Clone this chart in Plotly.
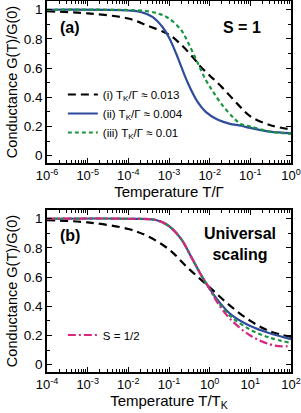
import plotly.graph_objects as go

# ---------- data: panel (a), S = 1, vs T/Gamma ----------
a_i_T = [1e-6, 1e-5, 1e-4, 3e-4, 1e-3, 2e-3, 4e-3, 6e-3, 1e-2, 2e-2, 5e-2, 1e-1, 3e-1, 1]
a_i_G = [0.99, 0.975, 0.94, 0.89, 0.83, 0.76, 0.67, 0.61, 0.55, 0.47, 0.35, 0.27, 0.21, 0.18]

a_ii_T = [1e-6, 1e-4, 2e-4, 4e-4, 7e-4, 1e-3, 1.5e-3, 2e-3, 3e-3, 5e-3, 8e-3, 1.5e-2, 3e-2, 6e-2, 1e-1, 3e-1, 1]
a_ii_G = [1.0, 0.995, 0.985, 0.95, 0.88, 0.81, 0.70, 0.61, 0.49, 0.37, 0.30, 0.25, 0.22, 0.205, 0.19, 0.165, 0.155]

a_iii_T = [1e-6, 1e-4, 3e-4, 6e-4, 1e-3, 2e-3, 3e-3, 5e-3, 8e-3, 1.2e-2, 2e-2, 4e-2, 6e-2, 1e-1, 3e-1, 1]
a_iii_G = [1.0, 0.998, 0.99, 0.97, 0.94, 0.86, 0.77, 0.64, 0.52, 0.44, 0.35, 0.255, 0.215, 0.20, 0.165, 0.15]

# ---------- data: panel (b), universal scaling vs T/T_K ----------
b_i_T = [1e-4, 1e-3, 1e-2, 3e-2, 1e-1, 3e-1, 1, 3, 10, 30, 100]
b_i_G = [0.99, 0.975, 0.93, 0.88, 0.79, 0.66, 0.53, 0.41, 0.30, 0.23, 0.19]

b_ii_T = [1e-4, 1e-2, 5e-2, 1e-1, 2e-1, 3.5e-1, 6e-1, 1, 1.6, 3.3, 10, 30, 100]
b_ii_G = [1.0, 1.0, 0.99, 0.95, 0.86, 0.74, 0.62, 0.52, 0.44, 0.345, 0.265, 0.215, 0.175]

b_iii_T = [1e-4, 1e-2, 5e-2, 1e-1, 2e-1, 3.5e-1, 6e-1, 1, 1.6, 3.3, 10, 30, 100]
b_iii_G = [1.0, 1.0, 0.99, 0.95, 0.86, 0.74, 0.62, 0.52, 0.43, 0.33, 0.24, 0.185, 0.15]

b_half_T = [1e-4, 1e-2, 5e-2, 1e-1, 2e-1, 3.5e-1, 6e-1, 1, 1.6, 3.3, 10, 30, 60, 100]
b_half_G = [1.0, 1.0, 0.99, 0.95, 0.86, 0.74, 0.62, 0.52, 0.42, 0.31, 0.20, 0.14, 0.125, 0.13]

legend_a = ["(i) T<sub>K</sub>/Γ ≈ 0.013", "(ii) T<sub>K</sub>/Γ ≈ 0.004", "(iii) T<sub>K</sub>/Γ ≈ 0.01"]
legend_b = "S = 1/2"

y_tickvals = [0, 0.2, 0.4, 0.6, 0.8, 1]
y_ticktext = ["0", "0.2", "0.4", "0.6", "0.8", "1"]

xa_exponents = [-6, -5, -4, -3, -2, -1, 0]
xb_exponents = [-4, -3, -2, -1, 0, 1, 2]

BLACK = "#000000"
BLUE = "#2f4d9c"
GREEN = "#1a9641"
PINK = "#d6287f"
FONT = "Liberation Sans"

fig = go.Figure()

def add(x, y, color, dash, name, xa, ya, legend=None, show=False):
    fig.add_trace(go.Scatter(
        x=x, y=y, mode="lines", name=name,
        line=dict(color=color, width=2.2, dash=dash, shape="spline", smoothing=1.0),
        xaxis=xa, yaxis=ya, showlegend=show, legend=legend or "legend",
    ))

add(a_i_T, a_i_G, BLACK, "8px,5px", legend_a[0], "x", "y", "legend", True)
add(a_ii_T, a_ii_G, BLUE, "solid", legend_a[1], "x", "y", "legend", True)
add(a_iii_T, a_iii_G, GREEN, "4px,3px", legend_a[2], "x", "y", "legend", True)

add(b_i_T, b_i_G, BLACK, "8px,5px", legend_a[0], "x2", "y2")
add(b_ii_T, b_ii_G, BLUE, "solid", legend_a[1], "x2", "y2")
add(b_iii_T, b_iii_G, GREEN, "4px,3px", legend_a[2], "x2", "y2")
add(b_half_T, b_half_G, PINK, "8px,3px,2px,3px", legend_b, "x2", "y2", "legend2", True)

TOP, BOT = 1, 372
H_TOT = BOT - TOP
dom_a = [(BOT - 163) / H_TOT, 1]
dom_b = [0, 162 / H_TOT]

def ypaper(px):
    return (BOT - px) / H_TOT

def xaxis_cfg(exps, title):
    return dict(type="log", range=[exps[0], exps[-1]],
                tickmode="array", tickvals=[10.0 ** e for e in exps],
                ticktext=[f"10<sup>{e}</sup>" for e in exps],
                showline=True, linecolor="black", linewidth=1.5, mirror="ticks",
                ticks="inside", ticklen=5, tickwidth=1, tickcolor="black",
                showgrid=False, zeroline=False, automargin=False,
                minor=dict(ticks="inside", ticklen=3, tickcolor="black", showgrid=False, dtick="D1"),
                tickfont=dict(size=13, color="black", family=FONT),
                title=dict(text=title, font=dict(size=15, color="black", family=FONT), standoff=1))

ycommon = dict(range=[-0.05, 1.06], tickvals=y_tickvals, ticktext=y_ticktext,
               showline=True, linecolor="black", linewidth=1.5, mirror="ticks",
               ticks="inside", ticklen=5, tickwidth=1, tickcolor="black",
               showgrid=False, zeroline=False, automargin=False,
               minor=dict(ticks="inside", ticklen=3, dtick=0.1, tickcolor="black", showgrid=False),
               tickfont=dict(size=13.5, color="black", family=FONT),
               title=dict(text="Conductance G(T)/G(0)", font=dict(size=14.5, color="black", family=FONT), standoff=3))

fig.update_layout(
    width=301, height=413, autosize=False,
    margin=dict(l=47, r=10, t=TOP, b=413 - BOT, pad=0),
    plot_bgcolor="white", paper_bgcolor="white",
    font=dict(family=FONT, color="black"),
    xaxis=dict(xaxis_cfg(xa_exponents, "Temperature T/Γ"), anchor="y", domain=[0, 1]),
    yaxis=dict(ycommon, domain=dom_a, anchor="x"),
    xaxis2=dict(xaxis_cfg(xb_exponents, "Temperature T/T<sub>K</sub>"), anchor="y2", domain=[0, 1]),
    yaxis2=dict(ycommon, domain=dom_b, anchor="x2"),
    legend=dict(x=0.065, y=ypaper(80), xanchor="left", yanchor="top",
                bgcolor="rgba(0,0,0,0)", font=dict(size=11.5, family=FONT, color="black"),
                tracegroupgap=0, itemwidth=30),
    legend2=dict(x=0.065, y=ypaper(335), xanchor="left", yanchor="middle",
                 bgcolor="rgba(0,0,0,0)", font=dict(size=11.5, family=FONT, color="black"),
                 itemwidth=30),
)

ann_font = dict(size=16, family=FONT, color="black")
def ann(text, xp, ypx):
    fig.add_annotation(text=text, x=xp, y=ypaper(ypx), xref="paper", yref="paper",
                       xanchor="center", yanchor="middle", showarrow=False, font=ann_font)

ann("<b>(a)</b>", 0.095, 27)
ann("<b>S = 1</b>", 0.80, 27)
ann("<b>(b)</b>", 0.095, 235)
ann("<b>Universal<br>scaling</b>", 0.79, 244)

fig.write_html("out.html", config={"responsive": False, "displayModeBar": False},
               post_script="document.body.style.margin='0';document.body.style.overflow='hidden';")
